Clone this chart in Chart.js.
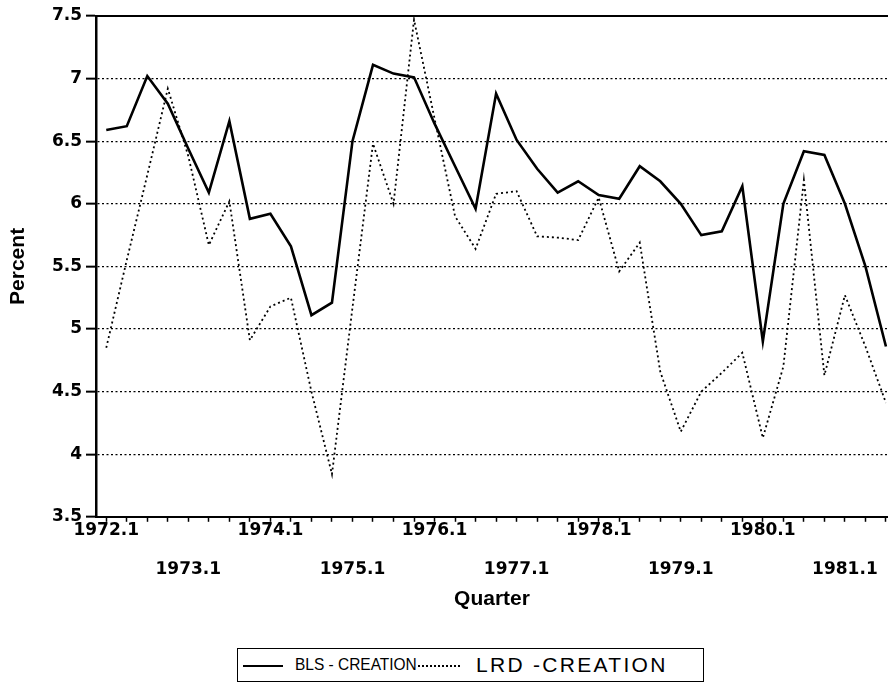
<!DOCTYPE html>
<html>
<head>
<meta charset="utf-8">
<script src="https://cdn.jsdelivr.net/npm/chart.js@4.4.1/dist/chart.umd.min.js"></script>
<style>
  body { margin: 0; background: #fff; }
  #wrap { position: relative; width: 888px; height: 693px; }
  #chart { position: absolute; left: 0; top: 0; }
  #legend {
    position: absolute; left: 237px; top: 648px; width: 467px; height: 34px;
    border: 1.5px solid #000; box-sizing: border-box; background: #fff;
    font-family: "Liberation Sans", Arial, sans-serif; color: #000;
  }
  .sample { position: absolute; top: 16px; height: 0; border-top: 2px solid #000; }
  .label { position: absolute; top: 50%; white-space: nowrap; transform-origin: left center; }
</style>
</head>
<body>
<div id="wrap">
  <canvas id="chart" width="888" height="693"></canvas>
  <div id="legend"></div>
</div>
<script>
document.addEventListener("DOMContentLoaded", () => {
  const quarters = [
    "1972.1", "1972.2", "1972.3", "1972.4", "1973.1", "1973.2", "1973.3", "1973.4",
    "1974.1", "1974.2", "1974.3", "1974.4", "1975.1", "1975.2", "1975.3", "1975.4",
    "1976.1", "1976.2", "1976.3", "1976.4", "1977.1", "1977.2", "1977.3", "1977.4",
    "1978.1", "1978.2", "1978.3", "1978.4", "1979.1", "1979.2", "1979.3", "1979.4",
    "1980.1", "1980.2", "1980.3", "1980.4", "1981.1", "1981.2", "1981.3",
  ];

  const blsCreation = [
    6.59, 6.62, 7.02, 6.80, 6.44, 6.09, 6.66, 5.88, 5.92, 5.66,
    5.11, 5.21, 6.50, 7.11, 7.04, 7.01, 6.64, 6.30, 5.96, 6.88,
    6.51, 6.28, 6.09, 6.18, 6.07, 6.04, 6.30, 6.18, 6.00, 5.75,
    5.78, 6.14, 4.90, 6.00, 6.42, 6.39, 6.00, 5.50, 4.86,
  ];

  const lrdCreation = [
    4.85, 5.55, 6.23, 6.92, 6.38, 5.67, 6.02, 4.91, 5.18, 5.25,
    4.50, 3.84, 5.17, 6.48, 6.00, 7.47, 6.68, 5.90, 5.64, 6.08,
    6.10, 5.74, 5.73, 5.71, 6.05, 5.46, 5.69, 4.66, 4.18, 4.50,
    4.65, 4.81, 4.13, 4.70, 6.19, 4.63, 5.27, 4.86, 4.41,
  ];

  // x tick labels, split over two rows like the original
  const upperTickLabels = ["1972.1", "1974.1", "1976.1", "1978.1", "1980.1"];
  const lowerTickLabels = ["1973.1", "1975.1", "1977.1", "1979.1", "1981.1"];

  const seriesNames = ["BLS - CREATION", "LRD -CREATION"];

  const xMin = -0.5;
  const xMax = 38.1;

  const tickFont = { family: "DejaVu Sans", size: 17, weight: "bold", lineHeight: 1 };
  const titleFont = { family: "Liberation Sans", size: 21, weight: "bold", lineHeight: 1.2 };

  const toPoints = (values) => values.map((v, i) => ({ x: i, y: v }));

  const chart = new Chart(document.getElementById("chart"), {
    type: "line",
    data: {
      datasets: [
        {
          label: seriesNames[0],
          data: toPoints(blsCreation),
          borderColor: "#000",
          borderWidth: 2.6,
          pointRadius: 0,
          tension: 0,
        },
        {
          label: seriesNames[1],
          data: toPoints(lrdCreation),
          borderColor: "#000",
          borderWidth: 1.8,
          borderDash: [2, 3],
          pointRadius: 0,
          tension: 0,
        },
      ],
    },
    options: {
      responsive: false,
      animation: false,
      devicePixelRatio: 1,
      layout: { padding: { top: 16, bottom: 81, left: 0, right: 0 } },
      plugins: {
        legend: { display: false },
        tooltip: { enabled: false },
      },
      scales: {
        x: {
          type: "linear",
          position: "bottom",
          weight: 0,
          min: xMin,
          max: xMax,
          afterBuildTicks: (scale) => {
            scale.ticks = quarters.map((q, i) => ({ value: i }));
          },
          afterFit: (scale) => {
            scale.height = 44.5;
          },
          ticks: {
            autoSkip: false,
            maxRotation: 0,
            padding: 0,
            color: "#000",
            font: tickFont,
            callback: (value) => (upperTickLabels.includes(quarters[value]) ? quarters[value] : ""),
          },
          grid: {
            drawOnChartArea: false,
            drawTicks: true,
            tickLength: 5,
            tickWidth: 1.5,
            tickColor: "#000",
          },
          border: { display: true, color: "#000", width: 2 },
        },
        x2: {
          type: "linear",
          position: "bottom",
          weight: 1,
          min: xMin,
          max: xMax,
          afterBuildTicks: (scale) => {
            scale.ticks = lowerTickLabels.map((q) => ({ value: quarters.indexOf(q) }));
          },
          ticks: {
            autoSkip: false,
            maxRotation: 0,
            padding: 0,
            color: "#000",
            font: tickFont,
            callback: (value) => quarters[value],
          },
          grid: { display: false, drawTicks: false },
          border: { display: false },
          title: {
            display: true,
            text: "Quarter",
            color: "#000",
            font: titleFont,
            padding: { top: 8.5, bottom: 0 },
          },
        },
        xTop: {
          type: "linear",
          position: "top",
          ticks: { display: false },
          grid: { display: false, drawTicks: false },
          border: { display: true, color: "#000", width: 2 },
        },
        y: {
          type: "linear",
          min: 3.5,
          max: 7.5,
          afterFit: (scale) => {
            scale.width = 96;
          },
          ticks: {
            stepSize: 0.5,
            padding: 4,
            color: "#000",
            font: tickFont,
            callback: (value) => String(value),
          },
          grid: {
            color: "#000",
            lineWidth: 1.3,
            tickLength: 10,
            tickWidth: 2,
            tickColor: "#000",
          },
          border: { display: true, color: "#000", width: 2.5, dash: [2, 2.5] },
          title: {
            display: true,
            text: "Percent",
            color: "#000",
            font: titleFont,
            padding: { top: 6, bottom: 0 },
          },
        },
      },
    },
  });

  // Legend box under the chart, built from the datasets
  const legend = document.getElementById("legend");
  const legendLayout = [
    { sampleLeft: 5, sampleWidth: 40, textLeft: 57, size: 17, spacing: 0, scale: 0.91 },
    { sampleLeft: 180, sampleWidth: 42, textLeft: 238, size: 21, spacing: 2.3, scale: 1 },
  ];
  chart.data.datasets.forEach((ds, i) => {
    const cfg = legendLayout[i];
    const sample = document.createElement("div");
    sample.className = "sample";
    sample.style.left = cfg.sampleLeft + "px";
    sample.style.width = cfg.sampleWidth + "px";
    if (ds.borderDash) sample.style.borderTopStyle = "dotted";
    const text = document.createElement("span");
    text.className = "label";
    text.textContent = ds.label;
    text.style.left = cfg.textLeft + "px";
    text.style.fontSize = cfg.size + "px";
    text.style.letterSpacing = cfg.spacing + "px";
    text.style.transform = `translateY(-50%) scaleX(${cfg.scale})`;
    legend.appendChild(sample);
    legend.appendChild(text);
  });
});
</script>
</body>
</html>
